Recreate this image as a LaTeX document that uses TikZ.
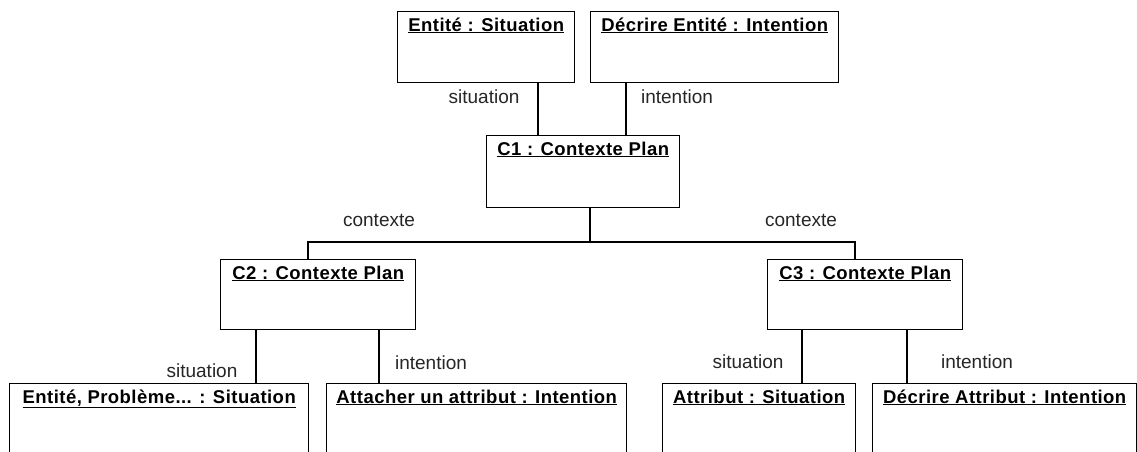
\documentclass[tikz,border=0pt]{standalone}
\usepackage{fontspec}
\setmainfont{Liberation Sans}
\newfontfamily\ttlfont{Liberation Sans}[LetterSpace=2.5]
\usetikzlibrary{calc}
\begin{document}
\begin{tikzpicture}[x=1pt,y=-1pt,
  obj/.style={draw=black, line width=1.4pt, rectangle, anchor=north west, inner sep=0pt},
  ttl/.style={anchor=base, inner sep=0pt, font=\ttlfont\bfseries\fontsize{18.5}{21}\selectfont},
  lbl/.style={inner sep=0pt, font=\fontsize{19}{22}\selectfont, text=black!85},
  conn/.style={draw=black, line width=1.4pt}]
\useasboundingbox (0,0) rectangle (1137,451);
\clip (0,0) rectangle (1137,451);
% boxes
\node[obj, minimum width=177pt, minimum height=71pt] (es) at (397,11) {};
\node[obj, minimum width=248pt, minimum height=71pt] (de) at (590,11) {};
\node[obj, minimum width=193pt, minimum height=72pt] (c1) at (486,135) {};
\node[obj, minimum width=195pt, minimum height=70pt] (c2) at (220,259) {};
\node[obj, minimum width=195pt, minimum height=70pt] (c3) at (767,259) {};
\node[obj, minimum width=299pt, minimum height=90pt] (b1) at (9,383) {};
\node[obj, minimum width=300pt, minimum height=90pt] (b2) at (326,383) {};
\node[obj, minimum width=193pt, minimum height=90pt] (b3) at (662,383) {};
\node[obj, minimum width=264pt, minimum height=90pt] (b4) at (872,383) {};
% titles
\node[ttl] (est) at ($(es.north)+(0,20)$) {\underline{Entité : Situation}};
\node[ttl] (det) at ($(de.north)+(0,20)$) {\underline{Décrire Entité : Intention}};
\node[ttl] (c1t) at ($(c1.north)+(0,20)$) {\underline{C1 : Contexte Plan}};
\node[ttl] (c2t) at ($(c2.north)+(0,20)$) {\underline{C2 : Contexte Plan}};
\node[ttl] (c3t) at ($(c3.north)+(0,20)$) {\underline{C3 : Contexte Plan}};
\node[ttl] (b1t) at ($(b1.north)+(0,20)$) {\underline{Entité, Problème... : Situation}};
\node[ttl] (b2t) at ($(b2.north)+(0,20)$) {\underline{Attacher un attribut : Intention}};
\node[ttl] (b3t) at ($(b3.north)+(0,20)$) {\underline{Attribut : Situation}};
\node[ttl] (b4t) at ($(b4.north)+(0,20)$) {\underline{Décrire Attribut : Intention}};
% connector coordinates
\coordinate (xa) at (538,0);
\coordinate (xb) at (626,0);
\coordinate (jm) at (590,242);
\coordinate (jl) at (308,242);
\coordinate (jr) at (855,242);
\coordinate (xc) at (256,0);
\coordinate (xd) at (379,0);
\coordinate (xe) at (802,0);
\coordinate (xf) at (907,0);
% connectors
\draw[conn] (es.south -| xa) -- (c1.north -| xa);
\draw[conn] (de.south -| xb) -- (c1.north -| xb);
\draw[conn] (c1.south -| jm) -- (jm);
\draw[conn] (c2.north -| jl) -- (jl) -- (jr) -- (c3.north -| jr);
\draw[conn] (c2.south -| xc) -- (b1.north -| xc);
\draw[conn] (c2.south -| xd) -- (b2.north -| xd);
\draw[conn] (c3.south -| xe) -- (b3.north -| xe);
\draw[conn] (c3.south -| xf) -- (b4.north -| xf);
% labels
\node[lbl] (l1) at (484,97) {situation};
\node[lbl] (l2) at (677,97) {intention};
\node[lbl] (l3) at (379,220) {contexte};
\node[lbl] (l4) at (801,220) {contexte};
\node[lbl] (l5) at (202,371) {situation};
\node[lbl] (l6) at (431,363) {intention};
\node[lbl] (l7) at (748,362) {situation};
\node[lbl] (l8) at (977,362) {intention};
\end{tikzpicture}
\end{document}
